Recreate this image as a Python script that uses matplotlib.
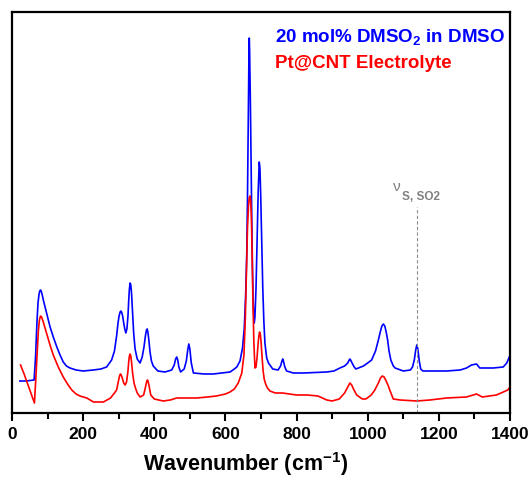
import matplotlib
matplotlib.use("Agg")
import matplotlib.pyplot as plt
from matplotlib.ticker import MultipleLocator

plt.rcParams["font.family"] = ["Liberation Sans", "DejaVu Sans"]
plt.rcParams["font.weight"] = "bold"
plt.rcParams["mathtext.default"] = "regular"

# Raman spectra, intensity in arbitrary units (blue trace offset above red)
dmso2_wn = [22, 40, 62, 66, 70, 73, 76, 78, 80, 82, 85, 88, 97, 107, 116, 126,
            135, 144, 153, 163, 180, 200, 229, 250, 266, 280, 288, 294, 298,
            301, 304, 306, 308, 311, 314, 317, 320, 323, 326, 328, 330, 332,
            334, 336, 339, 342, 346, 352, 360, 366, 371, 375, 378, 380, 382,
            385, 388, 392, 397, 410, 430, 449, 456, 460, 463, 466, 469, 474,
            484, 490, 494, 497, 500, 504, 510, 540, 566, 590, 613, 625, 632,
            641, 648, 653, 657, 660, 662, 664, 666, 667, 668, 670, 672, 674,
            676, 678, 680, 681, 683, 686, 689, 692, 694, 695, 697, 699, 702,
            705, 708, 711, 716, 721, 733, 748, 755, 759, 761, 763, 767, 772,
            791, 820, 885, 905, 922, 935, 944, 948, 950, 952, 956, 962, 967,
            988, 1000, 1011, 1022, 1030, 1036, 1040, 1044, 1048, 1052, 1056,
            1060, 1065, 1072, 1077, 1100, 1120, 1126, 1131, 1135, 1138, 1141,
            1145, 1149, 1155, 1161, 1222, 1260, 1278, 1292, 1306, 1315, 1353,
            1381, 1391, 1398]
dmso2_int = [32, 32, 33, 55, 90, 110, 119, 122, 123, 122, 118, 113, 100, 86, 76, 66,
             58, 51, 47, 45, 43, 42, 43, 44, 46, 53, 62, 77, 90,
             97, 101, 102, 101, 97, 90, 84, 80, 84, 97, 112, 124, 130,
             128, 120, 100, 80, 64, 54, 50, 56, 66, 77, 83, 84, 81,
             72, 61, 52, 47, 42, 41, 43, 48, 54, 56, 53, 46, 41,
             44, 52, 63, 69, 64, 50, 40, 39, 39, 40, 41, 44, 46,
             52, 65, 85, 120, 160, 215, 290, 355, 375, 362, 315, 255, 195,
             145, 112, 94, 90, 96, 125, 175, 220, 243, 251, 245, 220, 170,
             125, 92, 70, 55, 50, 44, 43, 47, 52, 54, 52, 46, 42,
             40, 40, 41, 42, 45, 47, 50, 53, 54, 53, 50, 46, 44,
             47, 50, 53, 62, 73, 82, 87, 89, 87, 81, 73,
             62, 53, 47, 45, 42, 43, 46, 53, 63, 68, 64,
             52, 44, 42, 42, 42, 43, 45, 48, 49, 45, 45,
             46, 50, 56]

ptcnt_wn = [24, 35, 45, 55, 63, 67, 71, 74, 77, 80, 83, 87, 97, 106, 116, 130,
            144, 156, 168, 180, 191, 210, 229, 257, 277, 288, 294, 298, 301,
            303, 305, 307, 310, 314, 318, 322, 326, 328, 330, 332, 334, 336,
            339, 343, 347, 352, 360, 370, 374, 377, 379, 381, 383, 386, 390,
            400, 425, 445, 463, 490, 519, 550, 575, 600, 613, 625, 636, 646,
            652, 656, 659, 662, 665, 667, 669, 671, 673, 675, 677, 680, 683,
            686, 689, 692, 694, 696, 698, 700, 703, 706, 709, 713, 718, 725,
            740, 760, 780, 800, 830, 860, 885, 900, 920, 935, 944, 950, 955,
            960, 969, 985, 995, 1010, 1020, 1030, 1036, 1041, 1046, 1052,
            1058, 1063, 1072, 1091, 1138, 1175, 1222, 1278, 1296, 1306, 1322,
            1362, 1394, 1398]
ptcnt_int = [48, 38, 28, 18, 10, 35, 62, 82, 93, 97, 96, 92, 80, 69, 58, 46,
             36, 29, 23, 19, 17, 15, 11, 11, 15, 20, 23, 30, 35,
             38, 39, 38, 35, 30, 28, 31, 42, 51, 57, 59, 57, 51,
             40, 30, 25, 20, 16, 18, 24, 29, 32, 33, 31, 26, 18,
             14, 12, 13, 15, 15, 15, 16, 17, 19, 21, 24, 30, 40,
             58, 95, 140, 185, 208, 215, 217, 212, 195, 160, 118, 70, 45,
             46, 56, 70, 77, 81, 79, 72, 56, 42, 34, 29, 25, 22,
             20, 20, 19, 18, 18, 17, 13, 12, 14, 20, 26, 30, 28,
             24, 18, 14, 14, 18, 23, 30, 35, 37, 36, 32,
             27, 22, 14, 13, 12, 13, 15, 16, 18, 19, 16,
             18, 23, 25]

series_labels = ["20 mol% DMSO$_2$ in DMSO", "Pt@CNT Electrolyte"]
series_colors = ["#0000ff", "#ff0000"]

so2_band = 1138      # symmetric SO2 stretch of DMSO2
so2_line_top = 206

fig = plt.figure(figsize=(5.32, 4.8), dpi=100)
ax = fig.add_axes([0.0226, 0.1396, 0.936, 0.8354])

ax.plot(dmso2_wn, dmso2_int, color=series_colors[0], lw=1.2)
ax.plot(ptcnt_wn, ptcnt_int, color=series_colors[1], lw=1.2)

ax.vlines(so2_band, 0, so2_line_top, colors="#8c8c8c", linestyles=(0, (3, 2)),
          lw=0.8)
ax.text(1071, 226, "ν", color="#808080", fontsize=11, fontweight="normal",
        ha="left", va="center")
ax.text(1096, 216, "S, SO2", color="#808080", fontsize=8.5, fontweight="bold",
        ha="left", va="center")

ax.text(0.528, 0.925, series_labels[0], color=series_colors[0], fontsize=13.5,
        fontweight="bold", transform=ax.transAxes, va="baseline")
ax.text(0.528, 0.86, series_labels[1], color=series_colors[1], fontsize=13.5,
        fontweight="bold", transform=ax.transAxes, va="baseline")

ax.set_xlim(0, 1400)
ax.set_ylim(0, 401)
ax.set_yticks([])
ax.xaxis.set_major_locator(MultipleLocator(200))
ax.xaxis.set_minor_locator(MultipleLocator(100))
ax.tick_params(axis="x", which="major", direction="out", length=6, width=1.5,
               labelsize=12.5, pad=4)
ax.tick_params(axis="x", which="minor", direction="out", length=4, width=1.5)
for s in ax.spines.values():
    s.set_linewidth(1.6)

ax.set_xlabel("Wavenumber (cm$^{-1}$)", fontsize=15.5, fontweight="bold")
ax.xaxis.set_label_coords(0.47, -0.092)

fig.savefig("out.png", dpi=100)
